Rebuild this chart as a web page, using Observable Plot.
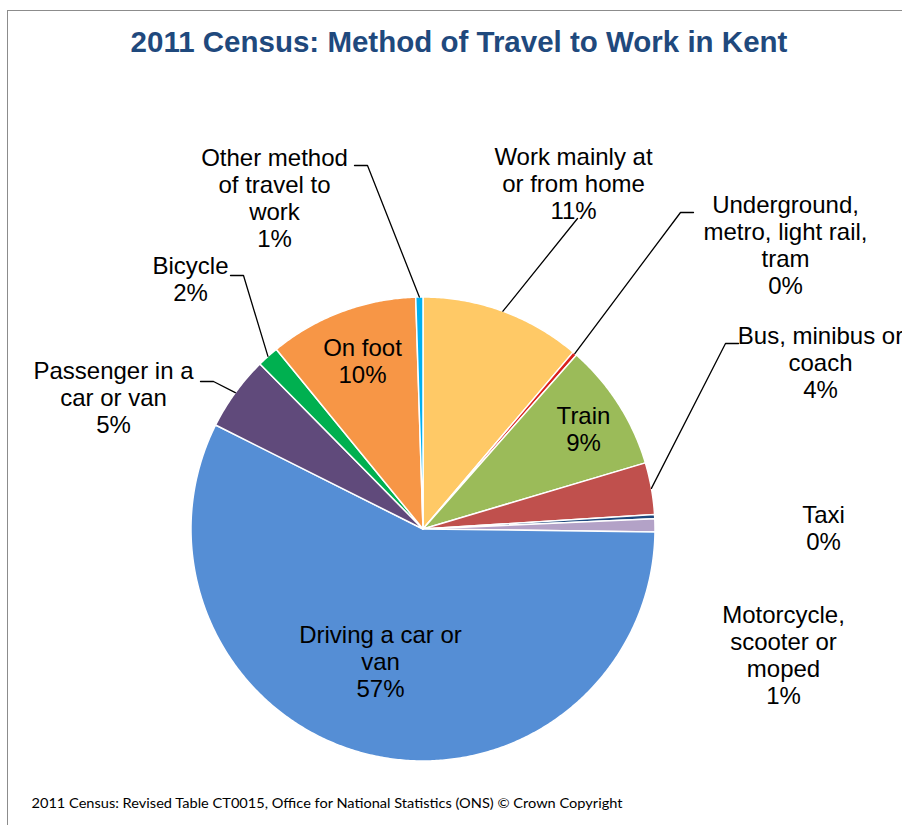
<!DOCTYPE html>
<html><head><meta charset="utf-8">
<script src="https://cdn.jsdelivr.net/npm/d3@7"></script>
<script src="https://cdn.jsdelivr.net/npm/@observablehq/plot@0.6"></script>
<style>
html,body{margin:0;padding:0;background:#fff;}
#wrap{position:relative;width:902px;height:825px;overflow:hidden;background:#fff;}
#border{position:absolute;left:7px;top:10px;width:1200px;height:1200px;border:1.5px solid #8c8c8c;box-sizing:border-box;pointer-events:none;}
</style></head>
<body><div id="wrap"><div id="border"></div></div>
<script>
// ---- data ----
const categories = [
  "Work mainly at or from home",
  "Underground, metro, light rail, tram",
  "Train",
  "Bus, minibus or coach",
  "Taxi",
  "Motorcycle, scooter or moped",
  "Driving a car or van",
  "Passenger in a car or van",
  "Bicycle",
  "On foot",
  "Other method of travel to work"
];
const values = [11.2, 0.3, 8.9, 3.6, 0.3, 0.9, 57.2, 5.2, 1.5, 10.4, 0.5];
const labelLines = [
  "Work mainly at\nor from home",
  "Underground,\nmetro, light rail,\ntram",
  "Train",
  "Bus, minibus or\ncoach",
  "Taxi",
  "Motorcycle,\nscooter or\nmoped",
  "Driving a car or\nvan",
  "Passenger in a\ncar or van",
  "Bicycle",
  "On foot",
  "Other method\nof travel to\nwork"
];
const colors = ["#FFC966", "#D9201E", "#9BBB59", "#C0504D", "#1F497D", "#B3A2C7",
                "#558ED5", "#604A7B", "#00B050", "#F79646", "#00B0F0"];
const title = "2011 Census: Method of Travel to Work in Kent";
const source = "2011 Census: Revised Table CT0015, Office for National Statistics (ONS) \u00A9 Crown Copyright";

// ---- layout ----
const W = 902, H = 825;
const cx = 422.5, cy = 528.5, R = 232;
const labelPos = [
  [573, 183], [785, 244.5], [583, 428.5], [820, 362], [823, 527.5], [783, 654.5],
  [380, 661], [113, 397], [190, 278.5], [362, 360.5], [274, 197.5]
];
const leaderElbows = {
  0: [[577, 218]],
  1: [[693, 212], [680, 212]],
  3: [[738, 343], [725, 343]],
  7: [[200, 381], [213, 381]],
  8: [[230, 275], [243, 275]],
  10: [[354, 165], [367, 165]]
};

// ---- geometry via d3.pie ----
const arcs = d3.pie().sort(null).value(d => d)(values);
const pt = (a, r) => ({x: cx + r * Math.sin(a), y: cy - r * Math.cos(a)});
const slicePts = [];
arcs.forEach((a, i) => {
  const name = categories[i];
  slicePts.push({...pt(0, 0), name});
  const n = Math.max(2, Math.ceil((a.endAngle - a.startAngle) / (Math.PI / 360)));
  for (let k = 0; k <= n; k++) {
    const ang = a.startAngle + (a.endAngle - a.startAngle) * k / n;
    slicePts.push({...pt(ang, R), name});
  }
  slicePts.push({...pt(0, 0), name});
});

const labels = categories.map((c, i) => ({
  text: labelLines[i] + "\n" + Math.round(values[i]) + "%",
  x: labelPos[i][0], y: labelPos[i][1]
}));

const leaders = [];
Object.entries(leaderElbows).forEach(([i, pts]) => {
  const a = arcs[+i];
  pts.forEach(p => leaders.push({id: i, x: p[0], y: p[1]}));
  const mid = (a.startAngle + a.endAngle) / 2;
  leaders.push({id: i, ...pt(mid, R)});
});

const chart = Plot.plot({
  width: W, height: H,
  margin: 0,
  x: {domain: [0, W], range: [0, W], axis: null},
  y: {domain: [0, H], range: [0, H], axis: null},
  color: {domain: categories, range: colors},
  style: {background: "transparent"},
  marks: [
    Plot.line(slicePts, {x: "x", y: "y", z: "name", fill: "name", stroke: "white", strokeWidth: 1.5, curve: "linear"}),
    Plot.line(leaders, {x: "x", y: "y", z: "id", stroke: "black", strokeWidth: 1.3, curve: "linear"}),
    Plot.text(labels, {x: "x", y: "y", text: "text", fontSize: 24, lineHeight: 1.125,
      fontFamily: "Liberation Sans, Arial, sans-serif", fill: "black", lineAnchor: "middle"}),
    Plot.text([title], {x: () => 458.5, y: () => 42, text: d => d, fontSize: 29.5, fontWeight: "bold",
      fontFamily: "Liberation Sans, Arial, sans-serif", fill: "#1F497D"}),
    Plot.text([source], {x: () => 31, y: () => 803, text: d => d, textAnchor: "start", fontSize: 14,
      fontFamily: "Lato, Carlito, Calibri, sans-serif", fill: "black"})
  ]
});
document.getElementById("wrap").appendChild(chart);
chart.querySelectorAll("text").forEach(t => {
  if (t.textContent === source) {
    t.setAttribute("textLength", 591);
    t.setAttribute("lengthAdjust", "spacingAndGlyphs");
  }
});
</script>
</body></html>
